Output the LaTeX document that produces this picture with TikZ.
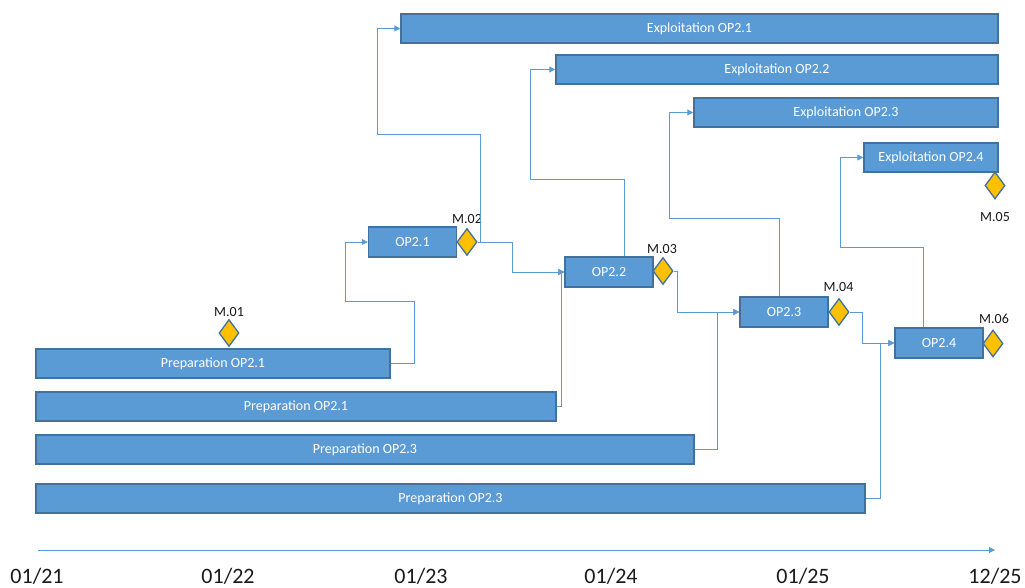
\documentclass[tikz,border=0pt]{standalone}
\usepackage{fontspec}
\setmainfont{Carlito}
\usepackage{xcolor}
\definecolor{barfill}{HTML}{5B9BD5}
\definecolor{barline}{HTML}{41719C}
\definecolor{gold}{HTML}{FFC000}
\definecolor{wire}{HTML}{5B9BD5}
\definecolor{ink}{HTML}{1A1A1A}
\usepackage{tikz}
\usetikzlibrary{arrows.meta,calc,shapes.geometric}
\tikzset{
  >={Triangle[length=6pt,width=6pt]},
  font=\fontsize{14}{16}\selectfont,
  bar/.style={draw=barline,fill=barfill,line width=1.5pt,text=white,
              minimum height=29pt,inner sep=0pt,align=center},
  opbox/.style={bar,minimum width=88pt,minimum height=30pt},
  ms/.style={diamond,draw=barline,fill=gold,line width=1.3pt,
             minimum width=20pt,minimum height=27pt,inner sep=0pt},
  tag/.style={text=ink,inner sep=0pt,anchor=base},
  yr/.style={text=ink,inner sep=0pt,anchor=base,font=\fontsize{22}{24}\selectfont},
  link/.style={->,draw=wire,line width=1pt},
  axis/.style={->,draw=wire,line width=1pt},
}
\begin{document}
\begin{tikzpicture}[x=1pt,y=-1pt]
  \path[fill=white,use as bounding box] (0,0) rectangle (1025,588);

  \node[bar,minimum width=597pt] (exp1) at (699.5,28.5) {Exploitation OP2.1};
  \node[bar,minimum width=442pt] (exp2) at (777,69.5) {Exploitation OP2.2};
  \node[bar,minimum width=304pt] (exp3) at (846,112.5) {Exploitation OP2.3};
  \node[bar,minimum width=134pt] (exp4) at (931,157.5) {Exploitation OP2.4};

  \node[bar,minimum width=354pt] (prep1) at (213,363.5) {Preparation OP2.1};
  \node[bar,minimum width=520pt] (prep2) at (296,406.5) {Preparation OP2.1};
  \node[bar,minimum width=658pt] (prep3) at (365,449.5) {Preparation OP2.3};
  \node[bar,minimum width=829pt] (prep4) at (450.5,498.5) {Preparation OP2.3};

  \node[opbox] (op21) at (412.5,242) {OP2.1};
  \node[opbox] (op22) at (609,272) {OP2.2};
  \node[opbox] (op23) at (784,312) {OP2.3};
  \node[opbox] (op24) at (939,343) {OP2.4};

  \node[ms] (m01) at (229,333) {};
  \node[ms] (m02) at (467,242) {};
  \node[ms] (m03) at (663,271) {};
  \node[ms] (m04) at (839,312) {};
  \node[ms] (m05) at (995,185.5) {};
  \node[ms] (m06) at (993,343.5) {};

  \node[tag] (l01) at (229,316) {M.01};
  \node[tag] (l02) at (467,223) {M.02};
  \node[tag] (l03) at (662,253) {M.03};
  \node[tag] (l04) at (838.5,291) {M.04};
  \node[tag] (l05) at (995,222) {M.05};
  \node[tag] (l06) at (994,323) {M.06};

  \draw[link] (prep1.east) -- ++(24,0) -- ++(0,-62) -| ($(op21.west)+(-22,0)$) -- (op21.west);
  \draw[link] (prep2.east) -- ++(5,0) |- (op22.west);
  \draw[link] (m02.east) -- ++(35,0) |- (op22.west);
  \draw[link] (m02.east) -- ++(3,0) -- ++(0,-107) -| ($(exp1.west)+(-23,0)$) -- (exp1.west);
  \draw[link] ($(op22.north)+(15,0)$) -- ++(0,-77) -| ($(exp2.west)+(-25,0)$) -- (exp2.west);
  \draw[link] ($(op23.north)+(-5,0)$) -- ++(0,-78) -| ($(exp3.west)+(-24,0)$) -- (exp3.west);
  \draw[link] (m03.east) -- ++(4,0) |- (op23.west);
  \draw[link] (prep3.east) -- ++(23,0) |- (op23.west);
  \draw[link] (m04.east) -- ++(13,0) |- (op24.west);
  \draw[link] (prep4.east) -- ++(15,0) |- (op24.west);
  \draw[link] ($(op24.north)+(-16,0)$) -- ++(0,-80) -| ($(exp4.west)+(-23,0)$) -- (exp4.west);

  \coordinate (t0) at (38,550);
  \coordinate (t1) at (995,550);
  \draw[axis] (t0) -- (t1);
  \node[yr] (y21) at (37,583) {01/21};
  \node[yr] (y22) at (228,583) {01/22};
  \node[yr] (y23) at (421,583) {01/23};
  \node[yr] (y24) at (611,583) {01/24};
  \node[yr] (y25) at (803,583) {01/25};
  \node[yr] (y26) at (995,583) {12/25};
\end{tikzpicture}
\end{document}
